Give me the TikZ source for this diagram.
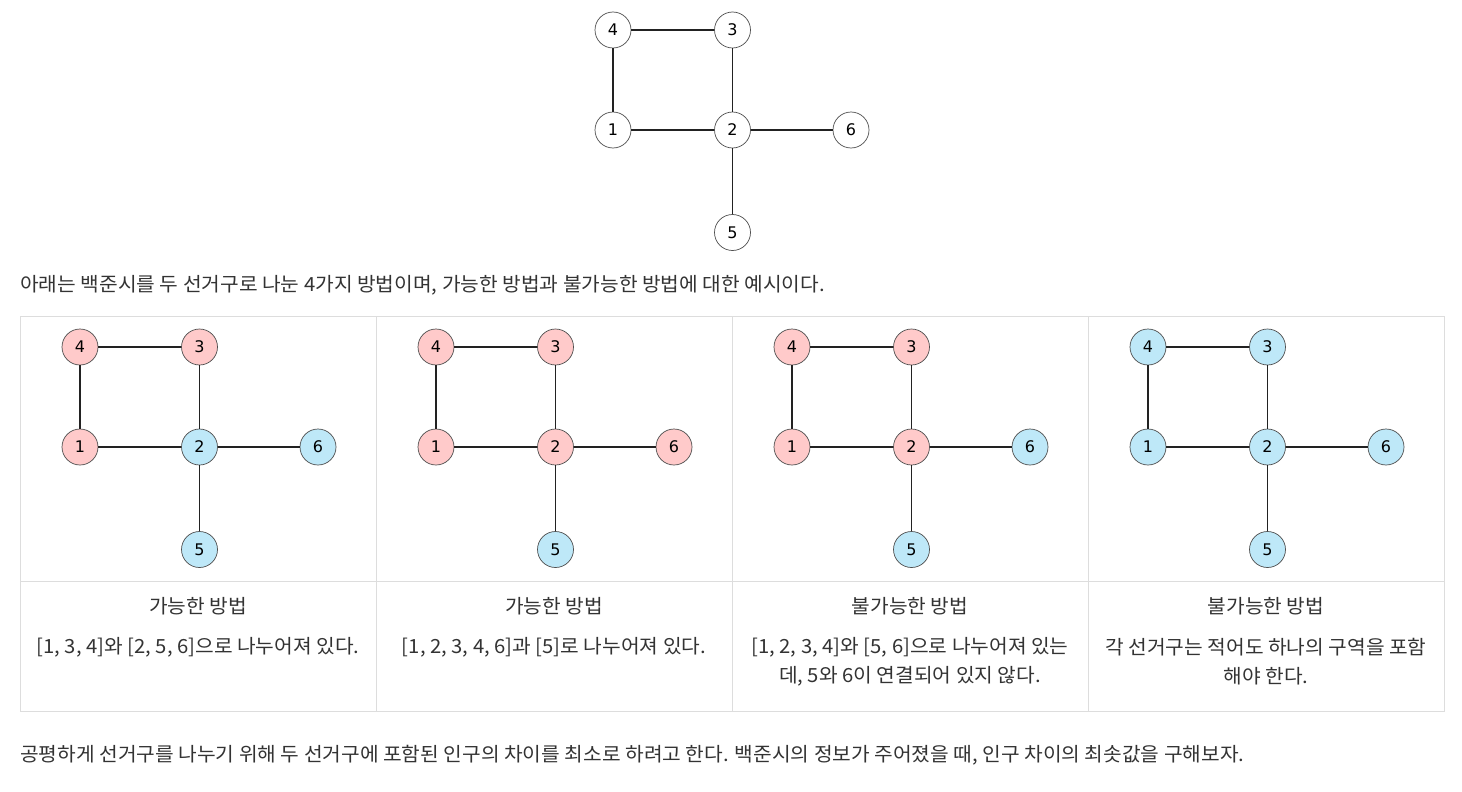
\documentclass[tikz,border=0pt]{standalone}
\usepackage{fontspec}
\newfontfamily\krfont[FakeStretch=1.04]{Noto Sans CJK KR}
\newfontfamily\numfont{DejaVu Sans}
\definecolor{txt}{HTML}{333333}
\definecolor{grid}{HTML}{DDDDDD}
\definecolor{pk}{HTML}{FFCACA}
\definecolor{bl}{HTML}{BEE8F8}
\definecolor{ln}{HTML}{222222}
\tikzset{
  vert/.style={circle,draw=ln!80,line width=0.7pt,minimum size=36pt,inner sep=0pt,font=\numfont\fontsize{16}{16}\selectfont,text=black},
  edge/.style={draw=ln,line width=1.2pt},
  krtext/.style={font=\krfont\fontsize{19.5}{23}\selectfont,text=txt,inner sep=0pt},
  cellt/.style={krtext,align=center,anchor=center}
}
\newcommand\drawgraph[9]{%
  \node[vert,fill=#4] (#1n1) at (#2,#3+100) {1};
  \node[vert,fill=#5] (#1n2) at (#2+119.5,#3+100) {2};
  \node[vert,fill=#6] (#1n3) at (#2+119.5,#3) {3};
  \node[vert,fill=#7] (#1n4) at (#2,#3) {4};
  \node[vert,fill=#8] (#1n5) at (#2+119.5,#3+202.5) {5};
  \node[vert,fill=#9] (#1n6) at (#2+238,#3+100) {6};
  \draw[edge] (#1n4) -- (#1n3);
  \draw[edge] (#1n4) -- (#1n1);
  \draw[edge] (#1n1) -- (#1n2);
  \draw[edge] (#1n3) -- (#1n2);
  \draw[edge] (#1n2) -- (#1n6);
  \draw[edge] (#1n2) -- (#1n5);
}
\begin{document}
\begin{tikzpicture}[x=1pt,y=-1pt]
\useasboundingbox[fill=white] (0,0) rectangle (1462,792);
% top graph
\drawgraph{t}{613}{30}{white}{white}{white}{white}{white}{white}
% text
\node[krtext,anchor=west] (intro) at (20,285) {아래는 백준시를 두 선거구로 나눈 4가지 방법이며, 가능한 방법과 불가능한 방법에 대한 예시이다.};
% table
\draw[grid,line width=1pt] (20,316) rectangle (1444,711);
\draw[grid,line width=1pt] (20,581) -- (1444,581);
\foreach \xx in {376,732,1088} \draw[grid,line width=1pt] (\xx,316) -- (\xx,711);
% cell graphs
\drawgraph{a}{80}{347}{pk}{bl}{pk}{pk}{bl}{bl}
\drawgraph{b}{436}{347}{pk}{pk}{pk}{pk}{bl}{pk}
\drawgraph{c}{792}{347}{pk}{pk}{pk}{pk}{bl}{bl}
\drawgraph{d}{1148}{347}{bl}{bl}{bl}{bl}{bl}{bl}
% cell texts
\node[cellt] (at) at (198,606) {가능한 방법};
\node[cellt] (ab) at (198,647) {[1, 3, 4]와 [2, 5, 6]으로 나누어져 있다.};
\node[cellt] (bt) at (554,606) {가능한 방법};
\node[cellt] (bb) at (554,647) {[1, 2, 3, 4, 6]과 [5]로 나누어져 있다.};
\node[cellt] (ct) at (910,606) {불가능한 방법};
\node[cellt] (cb1) at (910,647) {[1, 2, 3, 4]와 [5, 6]으로 나누어져 있는};
\node[cellt] (cb2) at (910,676) {데, 5와 6이 연결되어 있지 않다.};
\node[cellt] (dt) at (1266,606) {불가능한 방법};
\node[cellt] (db1) at (1266,647) {각 선거구는 적어도 하나의 구역을 포함};
\node[cellt] (db2) at (1266,676) {해야 한다.};
% bottom text
\node[krtext,anchor=west] (outro) at (20,755) {공평하게 선거구를 나누기 위해 두 선거구에 포함된 인구의 차이를 최소로 하려고 한다. 백준시의 정보가 주어졌을 때, 인구 차이의 최솟값을 구해보자.};
\end{tikzpicture}
\end{document}
